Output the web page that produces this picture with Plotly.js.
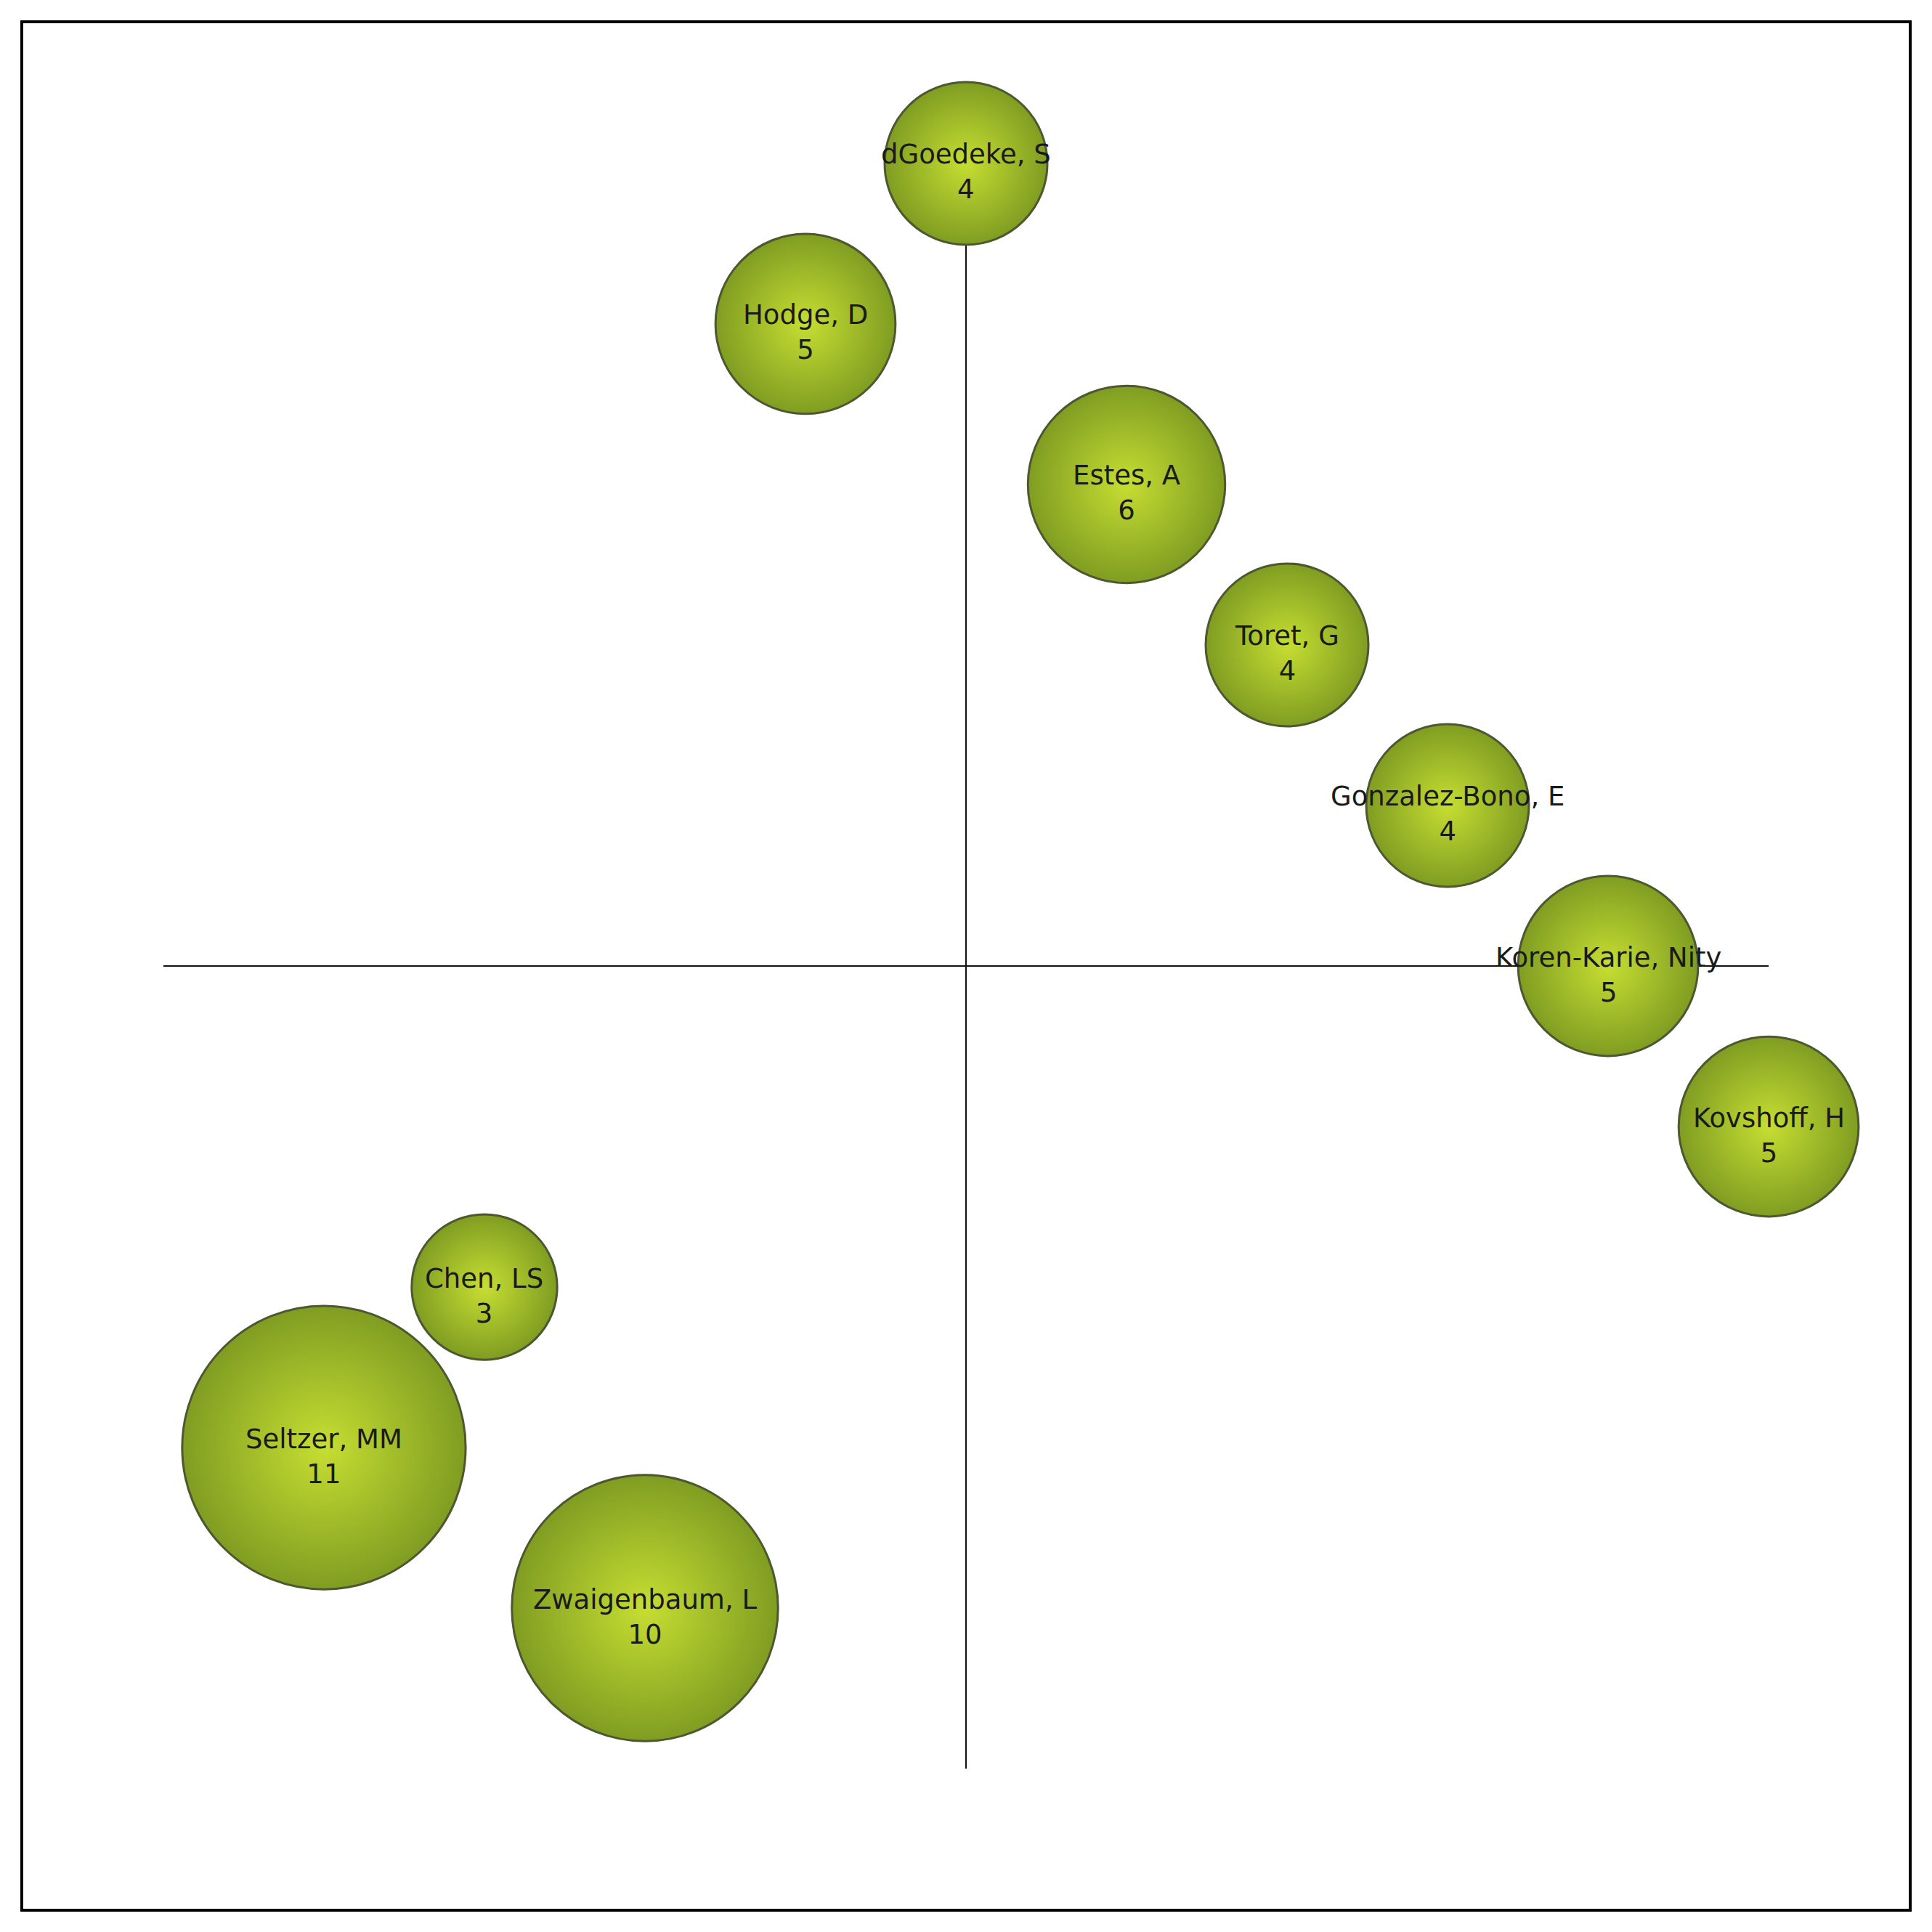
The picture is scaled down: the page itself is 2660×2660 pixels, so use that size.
<!DOCTYPE html>
<html>
<head>
<meta charset="utf-8">
<script src="https://cdn.plot.ly/plotly-3.0.1.min.js"></script>
<style>
  html, body { margin: 0; padding: 0; background: #fff; }
  #chart-area { width: 2660px; height: 2660px; }
</style>
</head>
<body>
<div id="chart-area"></div>
<script>
'use strict';

// authors, map position on the grid, and publication counts
const authors = [
    "dGoedeke, S", "Hodge, D", "Estes, A", "Toret, G", "Gonzalez-Bono, E",
    "Koren-Karie, Nity", "Kovshoff, H", "Chen, LS", "Seltzer, MM", "Zwaigenbaum, L"
];
const pos_x = [0, -1, 1, 2, 3, 4, 5, -3, -4, -2];
const pos_y = [5, 4, 3, 2, 1, 0, -1, -2, -3, -4];
const counts = [4, 5, 6, 4, 4, 5, 5, 3, 11, 10];

const axis_extent = 5;
const view_range = 5.882;
const label_font = { family: "DejaVu Sans, Verdana, sans-serif", size: 37, color: "#1a1a1a" };

function bubble_size(v) {
    // diameter in px grows linearly with the count
    return 129 + 23.75 * v;
}

window.onload = () => {
    const data = [{
        type: "scatter",
        mode: "markers",
        x: pos_x,
        y: pos_y,
        hoverinfo: "none",
        cliponaxis: false,
        marker: {
            size: counts.map(bubble_size),
            sizemode: "diameter",
            color: "#809d22",
            opacity: 1,
            gradient: { type: "radial", color: "#c6de32" },
            line: { color: "#4d5730", width: 3 },
        },
    }];

    // labels sit a little below the bubble centre, as in the original
    const annotations = authors.map((a, i) => ({
        xref: "x", yref: "y",
        x: pos_x[i], y: pos_y[i],
        text: a + "<br>" + counts[i],
        showarrow: false,
        xanchor: "center", yanchor: "middle",
        yshift: -12,
        font: label_font,
    }));

    const layout = {
        width: 2660,
        height: 2660,
        showlegend: false,
        paper_bgcolor: "#ffffff",
        plot_bgcolor: "#ffffff",
        margin: { l: 30, r: 30, t: 30, b: 30, pad: 0 },
        xaxis: {
            range: [-view_range, view_range],
            showgrid: false, zeroline: false, showticklabels: false, showline: false, ticks: "",
        },
        yaxis: {
            range: [-view_range, view_range],
            showgrid: false, zeroline: false, showticklabels: false, showline: false, ticks: "",
        },
        annotations: annotations,
        shapes: [
            {
                type: "line", xref: "x", yref: "y", layer: "below",
                x0: -axis_extent, x1: axis_extent, y0: 0, y1: 0,
                line: { color: "#111111", width: 2 },
            },
            {
                type: "line", xref: "x", yref: "y", layer: "below",
                x0: 0, x1: 0, y0: -axis_extent, y1: axis_extent,
                line: { color: "#111111", width: 2 },
            },
            {
                type: "rect", xref: "paper", yref: "paper",
                x0: 0, x1: 1, y0: 0, y1: 1,
                line: { color: "#000000", width: 4 },
            },
        ],
    };

    Plotly.newPlot("chart-area", data, layout, { staticPlot: true });
};
</script>
</body>
</html>
